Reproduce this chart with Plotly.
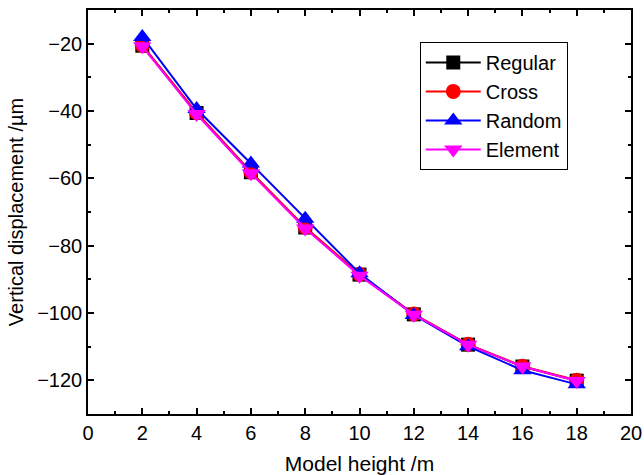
import plotly.graph_objects as go

heights = [2, 4, 6, 8, 10, 12, 14, 16, 18]
regular = [-20.6, -40.6, -58.2, -74.6, -88.6, -100.4, -109.4, -115.9, -120.1]
cross = [-20.5, -40.5, -58.1, -74.5, -88.5, -100.3, -109.3, -115.8, -120.0]
random_ = [-18.0, -39.4, -55.6, -72.0, -88.2, -100.6, -109.9, -117.0, -121.2]
element = [-20.8, -40.9, -58.5, -74.9, -88.9, -100.5, -109.4, -115.9, -120.2]

series = [
    ("Regular", regular, "black", "square", 14),
    ("Cross", cross, "red", "circle", 15),
    ("Random", random_, "blue", "triangle-up", 16),
    ("Element", element, "magenta", "triangle-down", 16),
]

fig = go.Figure()
for name, vals, col, sym, sz in series:
    fig.add_trace(go.Scatter(
        x=heights, y=vals, name=name, mode="lines+markers",
        line=dict(color=col, width=2),
        marker=dict(color=col, symbol=sym, size=sz, line=dict(width=0)),
    ))

fam = "Liberation Sans, Arial, sans-serif"
tickfont = dict(family=fam, size=20, color="black")
axis_common = dict(
    showline=True, linecolor="black", linewidth=1.5, mirror="ticks",
    ticks="inside", ticklen=6, tickwidth=1.5, tickcolor="black",
    showgrid=False, zeroline=False, tickfont=tickfont, automargin=False,
)
fig.update_xaxes(range=[0, 20], dtick=2, tick0=0,
                 minor=dict(ticks="inside", ticklen=3, dtick=1, tickcolor="black", tickwidth=1.5),
                 title=dict(text="Model height /m", font=dict(family=fam, size=21, color="black"), standoff=15),
                 **axis_common)
fig.update_yaxes(range=[-130, -10], dtick=20, tick0=-20,
                 minor=dict(ticks="inside", ticklen=3, dtick=10, tickcolor="black", tickwidth=1.5),
                 title=dict(text="Vertical displacement /µm", font=dict(family=fam, size=20, color="black"), standoff=8),
                 **axis_common)

fig.update_layout(
    width=644, height=475,
    margin=dict(l=88, r=13, t=10, b=61),
    plot_bgcolor="white", paper_bgcolor="white",
    font=tickfont,
    legend=dict(x=0.611, y=0.921, xanchor="left", yanchor="top",
                bordercolor="black", borderwidth=1, bgcolor="white",
                font=dict(family=fam, size=20, color="black"), itemwidth=55, tracegroupgap=0),
    showlegend=True,
)
fig.write_html("out.html")
